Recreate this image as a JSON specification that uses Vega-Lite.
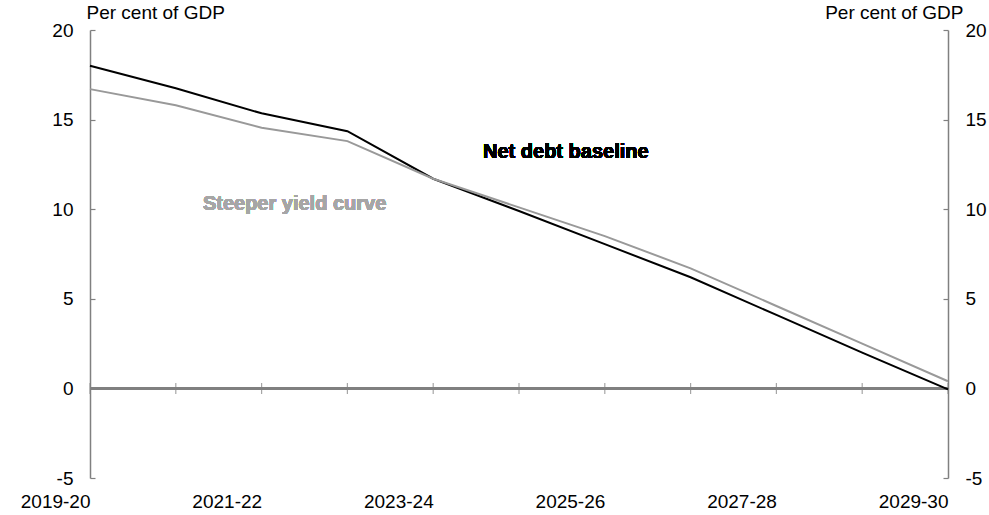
{
  "$schema": "https://vega.github.io/schema/vega-lite/v6.json",
  "width": 858,
  "height": 448,
  "autosize": "none",
  "padding": {"left": 90, "top": 30, "right": 41, "bottom": 37},
  "background": "white",
  "config": {
    "view": {"stroke": null},
    "font": "Liberation Sans",
    "axis": {"labelFont": "Liberation Sans", "titleFont": "Liberation Sans", "labelColor": "black", "titleColor": "black", "labelFontSize": 19, "titleFontSize": 19, "titleFontWeight": "normal", "grid": false, "domainColor": "#808080", "tickColor": "#808080", "domainWidth": 1.5, "tickWidth": 1.2}
  },
  "data": {"values": [
    {"year": "2019-20", "series": "Net debt baseline", "value": 18.0},
    {"year": "2020-21", "series": "Net debt baseline", "value": 16.75},
    {"year": "2021-22", "series": "Net debt baseline", "value": 15.35},
    {"year": "2022-23", "series": "Net debt baseline", "value": 14.35},
    {"year": "2023-24", "series": "Net debt baseline", "value": 11.7},
    {"year": "2024-25", "series": "Net debt baseline", "value": 9.9},
    {"year": "2025-26", "series": "Net debt baseline", "value": 8.05},
    {"year": "2026-27", "series": "Net debt baseline", "value": 6.2},
    {"year": "2027-28", "series": "Net debt baseline", "value": 4.1},
    {"year": "2028-29", "series": "Net debt baseline", "value": 2.0},
    {"year": "2029-30", "series": "Net debt baseline", "value": -0.05},
    {"year": "2019-20", "series": "Steeper yield curve", "value": 16.7},
    {"year": "2020-21", "series": "Steeper yield curve", "value": 15.8},
    {"year": "2021-22", "series": "Steeper yield curve", "value": 14.55},
    {"year": "2022-23", "series": "Steeper yield curve", "value": 13.8},
    {"year": "2023-24", "series": "Steeper yield curve", "value": 11.7},
    {"year": "2024-25", "series": "Steeper yield curve", "value": 10.1},
    {"year": "2025-26", "series": "Steeper yield curve", "value": 8.5},
    {"year": "2026-27", "series": "Steeper yield curve", "value": 6.7},
    {"year": "2027-28", "series": "Steeper yield curve", "value": 4.6},
    {"year": "2028-29", "series": "Steeper yield curve", "value": 2.5},
    {"year": "2029-30", "series": "Steeper yield curve", "value": 0.4}
  ]},
  "layer": [
    {
      "mark": {"type": "rule", "color": "#808080", "strokeWidth": 1.5},
      "encoding": {"y": {"datum": 0, "type": "quantitative", "scale": {"domain": [-5, 20], "nice": false}, "axis": null}}
    },
    {
      "mark": {"type": "tick", "orient": "vertical", "color": "#808080", "size": 11, "thickness": 1.2},
      "transform": [{"filter": "datum.series === 'Net debt baseline'"}],
      "encoding": {
        "x": {"field": "year", "type": "ordinal"},
        "y": {"datum": 0, "type": "quantitative", "axis": null}
      }
    },
    {
      "mark": {"type": "line", "strokeWidth": 2},
      "encoding": {
        "x": {"field": "year", "type": "ordinal", "scale": {"type": "point", "padding": 0},
          "axis": {"orient": "bottom", "title": null, "domain": false, "ticks": false, "labelAngle": 0, "labelPadding": 23, "values": ["2019-20", "2021-22", "2023-24", "2025-26", "2027-28", "2029-30"]}},
        "y": {"field": "value", "type": "quantitative",
          "axis": {"orient": "left", "values": [-5, 0, 5, 10, 15, 20], "labelExpr": "datum.value < 0 ? '-' + abs(datum.value) : '' + datum.value", "tickSize": -5, "labelPadding": 22, "title": "Per cent of GDP", "titleAngle": 0, "titleAlign": "left", "titleBaseline": "alphabetic", "titleX": -4, "titleY": -12}},
        "color": {"field": "series", "type": "nominal", "scale": {"domain": ["Net debt baseline", "Steeper yield curve"], "range": ["#000000", "#999999"]}, "legend": null},
        "order": {"field": "series", "sort": "descending"}
      }
    },
    {
      "mark": {"type": "rule", "opacity": 0},
      "encoding": {
        "y": {"datum": 0, "type": "quantitative",
          "axis": {"orient": "right", "values": [-5, 0, 5, 10, 15, 20], "labelExpr": "datum.value < 0 ? '-' + abs(datum.value) : '' + datum.value", "tickSize": -5, "labelPadding": 22, "title": "Per cent of GDP", "titleAngle": 0, "titleAlign": "right", "titleBaseline": "alphabetic", "titleX": 15, "titleY": -12}}
      }
    },
    {
      "mark": {"type": "text", "fontWeight": "bold", "fontSize": 20, "color": "#000000", "align": "center", "dx": -39},
      "encoding": {
        "x": {"datum": "2025-26", "type": "ordinal"},
        "y": {"datum": 13.2, "type": "quantitative", "axis": null},
        "text": {"value": "Net debt baseline"}
      }
    },
    {
      "mark": {"type": "text", "fontWeight": "bold", "fontSize": 20, "color": "#a6a6a6", "align": "center", "dx": 33},
      "encoding": {
        "x": {"datum": "2021-22", "type": "ordinal"},
        "y": {"datum": 10.3, "type": "quantitative", "axis": null},
        "text": {"value": "Steeper yield curve"}
      }
    }
  ],
  "resolve": {"axis": {"y": "independent"}}
}
